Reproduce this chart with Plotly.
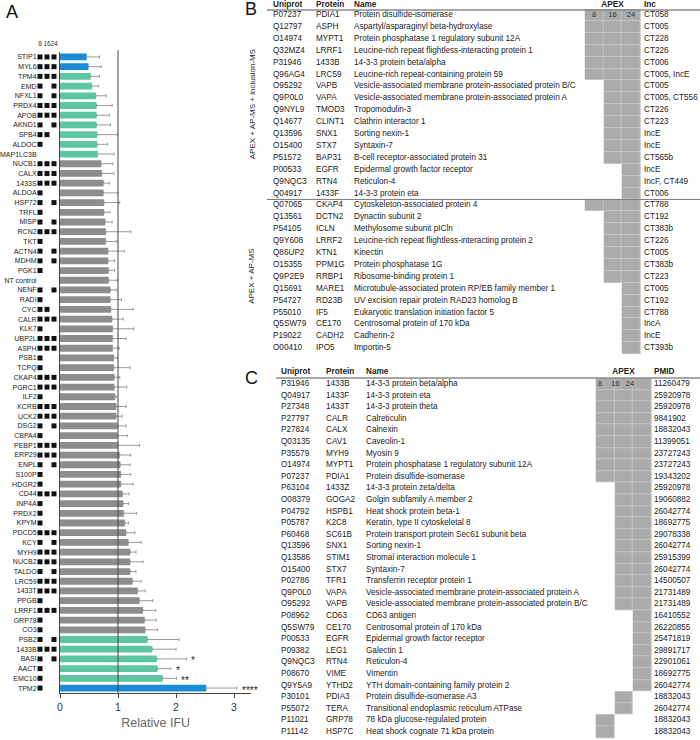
import plotly.graph_objects as go

FONT = "Liberation Sans, Arial, sans-serif"

# ---------------- Panel A data ----------------
proteins = ["STIP1", "MYL6", "TPM4", "EMD", "NFXL1", "PRDX4", "APOB", "AKND1", "SPB4", "ALDOC",
            "MAP1LC3B", "NUCB1", "CALX", "1433S", "ALDOA", "HSP72", "TRFL", "MISP", "RCN2", "TKT",
            "ACTN4", "MDHM", "PGK1", "NT control", "NENF", "RADI", "CYC", "CALR", "KLK7", "UBP2L",
            "ASPH", "PSB1", "TCPQ", "CKAP4", "PGRC1", "ILF2", "KCRB", "UCK2", "DSG2", "CBPA4",
            "PEBP1", "ERP29", "ENPL", "S100P", "HDGR2", "CD44", "INP4A", "PRDX2", "KPYM", "PDCD5",
            "KCY", "MYH9", "NUCB2", "TALDO", "LRC59", "1433T", "PPGB", "LRRF1", "GRP78", "CO3",
            "PSB2", "1433B", "BASI", "AACT", "EMC10", "TPM2"]
rel_ifu = [0.46, 0.49, 0.53, 0.55, 0.62, 0.63, 0.63, 0.63, 0.64, 0.64,
           0.65, 0.71, 0.72, 0.75, 0.75, 0.76, 0.76, 0.78, 0.79, 0.79,
           0.83, 0.83, 0.84, 0.84, 0.87, 0.87, 0.88, 0.90, 0.91, 0.91,
           0.91, 0.93, 0.93, 0.94, 0.94, 0.95, 0.97, 0.97, 0.99, 0.99,
           1.00, 1.03, 1.04, 1.05, 1.05, 1.08, 1.09, 1.10, 1.12, 1.14,
           1.18, 1.21, 1.21, 1.21, 1.25, 1.34, 1.37, 1.43, 1.46, 1.47,
           1.51, 1.59, 1.67, 1.68, 1.77, 2.52]
sd = [0.22, 0.22, 0.15, 0.11, 0.18, 0.27, 0.22, 0.24, 0.35, 0.18,
      0.28, 0.20, 0.21, 0.10, 0.25, 0.27, 0.10, 0.12, 0.43, 0.19,
      0.28, 0.11, 0.10, 0.15, 0.10, 0.19, 0.38, 0.19, 0.36, 0.23,
      0.11, 0.06, 0.28, 0.09, 0.21, 0.03, 0.17, 0.10, 0.15, 0.17,
      0.37, 0.19, 0.17, 0.17, 0.21, 0.11, 0.09, 0.22, 0.06, 0.15,
      0.22, 0.10, 0.22, 0.10, 0.15, 0.13, 0.23, 0.22, 0.20, 0.21,
      0.54, 0.41, 0.51, 0.23, 0.24, 0.53]
timepoints = ["8,16,24", "8,16,24", "8,16,24", "8,24", "8,24", "8,16,24", "8,16,24", "8,24", "8,16", "8",
              "", "8,16,24", "8,16,24", "8,16,24", "8", "8,24", "8", "8,24", "8,16,24", "8",
              "8,24", "8,24", "8", "", "8,24", "8", "8,16", "8,16,24", "8", "8,16,24",
              "8,16,24", "8", "8", "8,16,24", "8,16,24", "8", "8,16,24", "8,16,24", "8,24", "8",
              "8,16,24", "8,16,24", "8,24", "8", "8", "8,16,24", "8", "8", "8", "8,16,24",
              "8,24", "8,16,24", "8,16,24", "8,24", "8,16,24", "8,16,24", "8", "8,16,24", "8", "8",
              "8,24", "8,16,24", "8,24", "8", "8", "8"]
group = ["strong", "strong", "hit", "hit", "hit", "hit", "hit", "hit", "hit", "hit",
         "hit", "ns", "ns", "ns", "ns", "ns", "ns", "ns", "ns", "ns",
         "ns", "ns", "ns", "ns", "ns", "ns", "ns", "ns", "ns", "ns",
         "ns", "ns", "ns", "ns", "ns", "ns", "ns", "ns", "ns", "ns",
         "ns", "ns", "ns", "ns", "ns", "ns", "ns", "ns", "ns", "ns",
         "ns", "ns", "ns", "ns", "ns", "ns", "ns", "ns", "ns", "ns",
         "hit", "hit", "hit", "hit", "hit", "strong"]
signif = [""] * 62 + ["*", "*", "**", "****"]
tp_labels = [8, 16, 24]

# ---------------- Panel B data ----------------
b_uniprot = ["P07237", "Q12797", "O14974", "Q32MZ4", "P31946", "Q96AG4", "O95292", "Q9P0L0", "Q9NYL9",
             "Q14677", "Q13596", "O15400", "P51572", "P00533", "Q9NQC3", "Q04917",
             "Q07065", "Q13561", "P54105", "Q9Y608", "Q86UP2", "O15355", "Q9P2E9", "Q15691",
             "P54727", "P55010", "Q5SW79", "P19022", "O00410"]
b_protein = ["PDIA1", "ASPH", "MYPT1", "LRRF1", "1433B", "LRC59", "VAPB", "VAPA", "TMOD3",
             "CLINT1", "SNX1", "STX7", "BAP31", "EGFR", "RTN4", "1433F",
             "CKAP4", "DCTN2", "ICLN", "LRRF2", "KTN1", "PPM1G", "RRBP1", "MARE1",
             "RD23B", "IF5", "CE170", "CADH2", "IPO5"]
b_name = ["Protein disulfide-isomerase", "Aspartyl/asparaginyl beta-hydroxylase",
          "Protein phosphatase 1 regulatory subunit 12A",
          "Leucine-rich repeat flightless-interacting protein 1", "14-3-3 protein beta/alpha",
          "Leucine-rich repeat-containing protein 59",
          "Vesicle-associated membrane protein-associated protein B/C",
          "Vesicle-associated membrane protein-associated protein A", "Tropomodulin-3",
          "Clathrin interactor 1", "Sorting nexin-1", "Syntaxin-7",
          "B-cell receptor-associated protein 31", "Epidermal growth factor receptor",
          "Reticulon-4", "14-3-3 protein eta",
          "Cytoskeleton-associated protein 4", "Dynactin subunit 2", "Methylosome subunit pICln",
          "Leucine-rich repeat flightless-interacting protein 2", "Kinectin",
          "Protein phosphatase 1G", "Ribosome-binding protein 1",
          "Microtubule-associated protein RP/EB family member 1",
          "UV excision repair protein RAD23 homolog B",
          "Eukaryotic translation initiation factor 5", "Centrosomal protein of 170 kDa",
          "Cadherin-2", "Importin-5"]
b_inc = ["CT058", "CT005", "CT228", "CT226", "CT006", "CT005, IncE", "CT005", "CT005, CT556",
         "CT226", "CT223", "IncE", "IncE", "CT565b", "IncE", "IncF, CT449", "CT006",
         "CT788", "CT192", "CT383b", "CT226", "CT005", "CT383b", "CT223", "CT005",
         "CT192", "CT788", "IncA", "IncE", "CT393b"]
b_apex = ["8,16,24", "8,16,24", "8,16,24", "8,16,24", "8,16,24", "8,16,24", "16,24", "16,24",
          "16,24", "16,24", "16,24", "16,24", "16,24", "24", "24", "24",
          "8,16,24", "16,24", "16,24", "16,24", "16,24", "16,24", "16,24", "24",
          "24", "24", "24", "24", "24"]
b_sections = ["APEX + AP-MS + inclusion-MS", "APEX + AP-MS"]
b_section_of_row = [0] * 16 + [1] * 13

# ---------------- Panel C data ----------------
c_uniprot = ["P31946", "Q04917", "P27348", "P27797", "P27824", "Q03135", "P35579", "O14974",
             "P07237", "P63104", "O08379", "P04792", "P05787", "P60468", "Q13596", "Q13586",
             "O15400", "P02786", "Q9P0L0", "O95292", "P08962", "Q5SW79", "P00533", "P09382",
             "Q9NQC3", "P08670", "Q9Y5A9", "P30101", "P55072", "P11021", "P11142"]
c_protein = ["1433B", "1433F", "1433T", "CALR", "CALX", "CAV1", "MYH9", "MYPT1", "PDIA1",
             "1433Z", "GOGA2", "HSPB1", "K2C8", "SC61B", "SNX1", "STIM1", "STX7", "TFR1",
             "VAPA", "VAPB", "CD63", "CE170", "EGFR", "LEG1", "RTN4", "VIME", "YTHD2",
             "PDIA3", "TERA", "GRP78", "HSP7C"]
c_name = ["14-3-3 protein beta/alpha", "14-3-3 protein eta", "14-3-3 protein theta",
          "Calreticulin", "Calnexin", "Caveolin-1", "Myosin 9",
          "Protein phosphatase 1 regulatory subunit 12A", "Protein disulfide-isomerase",
          "14-3-3 protein zeta/delta", "Golgin subfamily A member 2", "Heat shock protein beta-1",
          "Keratin, type II cytoskeletal 8", "Protein transport protein Sec61 subunit beta",
          "Sorting nexin-1", "Stromal interaction molecule 1", "Syntaxin-7",
          "Transferrin receptor protein 1",
          "Vesicle-associated membrane protein-associated protein A",
          "Vesicle-associated membrane protein-associated protein B/C", "CD63 antigen",
          "Centrosomal protein of 170 kDa", "Epidermal growth factor receptor", "Galectin 1",
          "Reticulon-4", "Vimentin", "YTH domain-containing family protein 2",
          "Protein disulfide-isomerase A3", "Transitional endoplasmic reticulum ATPase",
          "78 kDa glucose-regulated protein", "Heat shock cognate 71 kDa protein"]
c_pmid = ["11260479", "25920978", "25920978", "9841902", "18832043", "11399051", "23727243",
          "23727243", "19343202", "25920978", "19060882", "26042774", "18692775", "29078338",
          "26042774", "25915399", "26042774", "14500507", "21731489", "21731489", "16410552",
          "26220855", "25471819", "29891717", "22901061", "18692775", "26042774", "18832043",
          "26042774", "18832043", "18832043"]
c_apex = ["8,16,24", "8,16,24", "8,16,24", "8,16,24", "8,16,24", "8,16,24",
          "8,16,24", "8,16,24", "8,16,24", "16,24", "16,24", "16,24", "16,24",
          "16,24", "16,24", "16,24", "16,24", "16,24", "16,24", "16,24",
          "24", "24", "24", "24", "24", "24", "24", "16", "16", "8", "8"]

# ---------------- style ----------------
COLORS = {"strong": "#1a8bd6", "hit": "#5cc6a2", "ns": "#8d8d8d"}
CELL_GRAY = "#ababab"
TXT = "#222222"
TFS = 8.2  # table font size

W, H = 700, 740
# Panel A geometry (pixels)
A_X0, A_PX_PER_UNIT, A_XMAX = 60.0, 58.0, 3.3
A_TOP, A_BOT = 52.1, 692.9
SQ_X0, SQ_X1 = 36.5, 57.5


def py(p):
    return 1 - p / H


fig = go.Figure()

n = len(proteins)
fig.add_trace(go.Bar(
    x=rel_ifu, y=proteins, orientation="h",
    marker=dict(color=[COLORS[g] for g in group], line=dict(width=0)),
    width=0.7,
    error_x=dict(type="data", symmetric=False, array=sd, arrayminus=[0] * n,
                 color="#9a9a9a", thickness=1, width=1.5),
    xaxis="x", yaxis="y", showlegend=False, hoverinfo="skip",
))

# time-point squares
sq_x, sq_y = [], []
for prot, tps in zip(proteins, timepoints):
    for t in tps.split(","):
        if t:
            sq_x.append(int(t))
            sq_y.append(prot)
fig.add_trace(go.Scatter(
    x=sq_x, y=sq_y, mode="markers", xaxis="x2", yaxis="y",
    marker=dict(symbol="square", size=5, color="#111111", line=dict(width=0)),
    showlegend=False, hoverinfo="skip", cliponaxis=False,
))

# significance stars
for prot, v, s, sig in zip(proteins, rel_ifu, sd, signif):
    if sig:
        fig.add_annotation(x=v + s + 0.05, y=prot, xref="x", yref="y", text=sig,
                           showarrow=False, xanchor="left", yanchor="middle", yshift=-2,
                           font=dict(size=10, color=TXT, family=FONT))

# reference line at 1
fig.add_shape(type="line", xref="x", yref="y domain", x0=1, x1=1, y0=0, y1=1.003,
              line=dict(color="#444444", width=1))


# ---------------- tables (pixel coordinate axes) ----------------
def text_trace(xs, ys, texts, size=TFS, color=TXT, pos="middle right"):
    return go.Scatter(x=xs, y=ys, mode="text", text=texts, textposition=pos,
                      textfont=dict(size=size, color=color, family=FONT),
                      xaxis="x3", yaxis="y3", showlegend=False, hoverinfo="skip",
                      cliponaxis=False)


# Panel B
B_ROW0, B_DY = 15.0, 11.9
b_y = [B_ROW0 + i * B_DY for i in range(len(b_uniprot))]
B_COLS = {"uni": 273, "prot": 316, "name": 354, "inc": 644}
B_APEX_X = [594, 612.5, 631]
fig.add_trace(go.Heatmap(
    x=B_APEX_X, y=b_y,
    z=[[1 if str(t) in row.split(",") else None for t in tp_labels] for row in b_apex],
    colorscale=[[0, CELL_GRAY], [1, CELL_GRAY]], zmin=0, zmax=1, showscale=False,
    xgap=0.3, ygap=0.3, xaxis="x3", yaxis="y3", hoverinfo="skip",
))
fig.add_trace(text_trace([B_COLS["uni"]] * len(b_y), b_y, b_uniprot))
fig.add_trace(text_trace([B_COLS["prot"]] * len(b_y), b_y, b_protein))
fig.add_trace(text_trace([B_COLS["name"]] * len(b_y), b_y, b_name))
fig.add_trace(text_trace([B_COLS["inc"]] * len(b_y), b_y, b_inc))
fig.add_trace(text_trace(B_APEX_X, [b_y[0]] * 3, [str(t) for t in tp_labels],
                         size=7.5, color="#333333", pos="middle center"))
B_HEAD_Y = 4.5
fig.add_trace(text_trace([B_COLS["uni"], B_COLS["prot"], B_COLS["name"], B_COLS["inc"]],
                         [B_HEAD_Y] * 4,
                         ["<b>Uniprot</b>", "<b>Protein</b>", "<b>Name</b>", "<b>Inc</b>"]))
fig.add_trace(text_trace([B_APEX_X[1]], [B_HEAD_Y], ["<b>APEX</b>"], pos="middle center"))
fig.add_shape(type="line", xref="x3", yref="y3", x0=267, x1=700, y0=10, y1=10,
              line=dict(color="#8a8a8a", width=1.5))
sep_y = (b_y[15] + b_y[16]) / 2
fig.add_shape(type="line", xref="x3", yref="y3", x0=267, x1=700, y0=sep_y, y1=sep_y,
              line=dict(color="#7a7a7a", width=1))
for k, label in enumerate(b_sections):
    rows = [y for y, s in zip(b_y, b_section_of_row) if s == k]
    fig.add_annotation(x=252, y=(rows[0] + rows[-1]) / 2, xref="x3", yref="y3", text=label,
                       textangle=-90, showarrow=False,
                       font=dict(size=8, color=TXT, family=FONT))

# Panel C
C_ROW0, C_DY = 384.0, 11.6
c_y = [C_ROW0 + i * C_DY for i in range(len(c_uniprot))]
C_COLS = {"uni": 281, "prot": 326, "name": 366, "pmid": 654}
C_APEX_X = [605, 623.5, 642]
fig.add_trace(go.Heatmap(
    x=C_APEX_X, y=c_y,
    z=[[1 if str(t) in row.split(",") else None for t in tp_labels] for row in c_apex],
    colorscale=[[0, CELL_GRAY], [1, CELL_GRAY]], zmin=0, zmax=1, showscale=False,
    xgap=0.3, ygap=0.3, xaxis="x3", yaxis="y3", hoverinfo="skip",
))
fig.add_trace(text_trace([C_COLS["uni"]] * len(c_y), c_y, c_uniprot))
fig.add_trace(text_trace([C_COLS["prot"]] * len(c_y), c_y, c_protein))
fig.add_trace(text_trace([C_COLS["name"]] * len(c_y), c_y, c_name))
fig.add_trace(text_trace([C_COLS["pmid"]] * len(c_y), c_y, c_pmid))
fig.add_trace(text_trace([600, 615.5, 630], [c_y[0]] * 3, [str(t) for t in tp_labels],
                         size=7.5, color="#333333", pos="middle center"))
C_HEAD_Y = 372
fig.add_trace(text_trace([C_COLS["uni"], C_COLS["prot"], C_COLS["name"], C_COLS["pmid"]],
                         [C_HEAD_Y] * 4,
                         ["<b>Uniprot</b>", "<b>Protein</b>", "<b>Name</b>", "<b>PMID</b>"]))
fig.add_trace(text_trace([C_APEX_X[1]], [C_HEAD_Y], ["<b>APEX</b>"], pos="middle center"))
fig.add_shape(type="line", xref="x3", yref="y3", x0=276, x1=700, y0=378, y1=378,
              line=dict(color="#8a8a8a", width=1.5))

# panel letters
for letter, (lx, ly) in {"A": (4, 12), "B": (243, 9), "C": (243, 378)}.items():
    fig.add_annotation(x=lx, y=ly, xref="x3", yref="y3", text=letter, showarrow=False,
                       xanchor="left", yanchor="middle",
                       font=dict(size=18, color="#111111", family=FONT))

fig.update_layout(
    width=W, height=H, margin=dict(l=0, r=0, t=0, b=0, autoexpand=False),
    paper_bgcolor="white", plot_bgcolor="rgba(0,0,0,0)",
    font=dict(family=FONT, color=TXT),
    xaxis=dict(domain=[A_X0 / W, (A_X0 + A_XMAX * A_PX_PER_UNIT) / W], range=[0, A_XMAX],
               anchor="y", tickvals=[0, 1, 2, 3], ticks="outside", ticklen=4,
               tickcolor="#444444", showline=True, linecolor="#444444", linewidth=1,
               showgrid=False, zeroline=False, automargin=False,
               tickfont=dict(size=10.5, color="#333333", family=FONT),
               title=dict(text="Relative IFU", font=dict(size=12.5, color="#666666", family=FONT),
                          standoff=6)),
    yaxis=dict(domain=[py(A_BOT), py(A_TOP)], type="category", categoryorder="array",
               categoryarray=proteins, range=[n - 0.5, -0.5], anchor="x",
               showline=True, linecolor="#444444", linewidth=1, ticks="", showgrid=False,
               zeroline=False, automargin=False,
               tickfont=dict(size=7.0, color=TXT, family=FONT),
               ticklabelstandoff=21),
    xaxis2=dict(domain=[SQ_X0 / W, SQ_X1 / W], range=[4, 28], anchor="y", side="top",
                tickvals=tp_labels, ticktext=[str(t) for t in tp_labels], ticks="",
                tickangle=0, showline=False, showgrid=False, zeroline=False, automargin=False,
                tickfont=dict(size=6.5, color="#333333", family=FONT), ticklabelstandoff=4),
    xaxis3=dict(domain=[0, 1], range=[0, W], anchor="y3", visible=False, automargin=False),
    yaxis3=dict(domain=[0, 1], range=[H, 0], anchor="x3", visible=False, automargin=False),
)

fig.write_html("out.html", config={"displayModeBar": False},
               post_script="document.body.style.margin='0';document.body.style.overflow='hidden';")
